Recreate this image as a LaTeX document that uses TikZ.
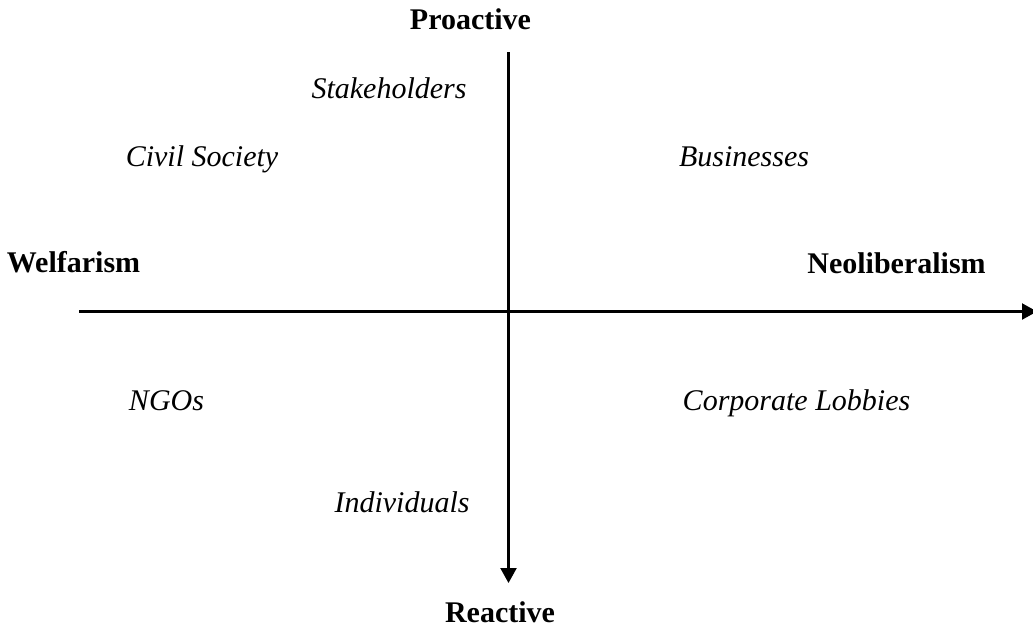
\documentclass[tikz,border=0pt]{standalone}
\usepackage{fontspec}
\setmainfont{Liberation Serif}
\usetikzlibrary{arrows.meta}
\begin{document}
\begin{tikzpicture}[x=1pt,y=-1pt,
  axis/.style={line width=2.2pt,-{Triangle[length=15pt,width=16pt]}},
  pole/.style={font=\fontsize{30}{36}\selectfont\bfseries,inner sep=0pt,text depth=0pt,anchor=base},
  actor/.style={font=\fontsize{30}{36}\selectfont\itshape,inner sep=0pt,anchor=base}]
\useasboundingbox (0,0) rectangle (1033,627);
% axis end points
\coordinate (vtop) at (508.5,52);
\coordinate (vbot) at (508.5,583);
\coordinate (hleft) at (79,311.5);
\coordinate (hright) at (1037,311.5);
\draw[axis] (vtop) -- (vbot);
\draw[axis] (hleft) -- (hright);
% poles of the two axes
\node[pole] (proactive) at (470.5,29) {Proactive};
\node[pole] (reactive) at (500,622) {Reactive};
\node[pole] (welfarism) at (73.5,272) {Welfarism};
\node[pole] (neolib) at (896.5,273) {Neoliberalism};
% actors in the quadrants
\node[actor] (stake) at (389,98) {Stakeholders};
\node[actor] (civil) at (202,166) {Civil Society};
\node[actor] (business) at (744,166) {Businesses};
\node[actor] (ngos) at (166.5,410) {NGOs};
\node[actor] (lobbies) at (796.5,410) {Corporate Lobbies};
\node[actor] (indiv) at (402,512) {Individuals};
\end{tikzpicture}
\end{document}
